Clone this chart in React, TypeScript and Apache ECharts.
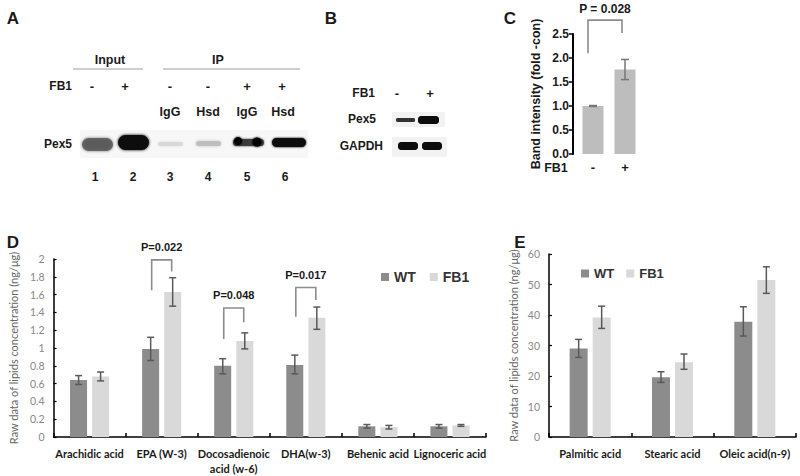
import React, { useEffect, useRef } from "react";
import * as echarts from "echarts";

// Panel C
const cCategories = ["-", "+"];
const cValues = [1.0, 1.76];
const cErrLow = [0.99, 1.55];
const cErrHigh = [1.01, 1.97];
const cBracket = [[0, 2.1, 2.79, 2.52]];
const cPLabel = "P = 0.028";

// Panel D
const dCategories = ["Arachidic acid", "EPA (W-3)", "Docosadienoic\nacid (w-6)", "DHA(w-3)", "Behenic acid", "Lignoceric acid"];
const dWT = [0.64, 0.99, 0.8, 0.81, 0.12, 0.12];
const dWTLow = [0.59, 0.86, 0.71, 0.71, 0.1, 0.1];
const dWTHigh = [0.69, 1.12, 0.88, 0.92, 0.14, 0.14];
const dFB1 = [0.68, 1.63, 1.08, 1.34, 0.11, 0.13];
const dFB1Low = [0.63, 1.47, 0.99, 1.21, 0.09, 0.12];
const dFB1High = [0.73, 1.79, 1.17, 1.46, 0.13, 0.14];
const dBrackets = [[1, 1.65, 1.99, 1.86], [2, 1.1, 1.45, 1.29], [3, 1.35, 1.68, 1.54]];
const dPLabels = ["P=0.022", "P=0.048", "P=0.017"];

// Panel E
const eCategories = ["Palmitic acid", "Stearic acid", "Oleic acid(n-9)"];
const eWT = [29, 19.6, 37.8];
const eWTLow = [26.1, 17.9, 33.1];
const eWTHigh = [32.0, 21.4, 42.7];
const eFB1 = [39.2, 24.5, 51.5];
const eFB1Low = [35.6, 22.2, 47.1];
const eFB1High = [42.9, 27.2, 55.8];

const seriesNames = ["WT", "FB1"];

const ARIAL = '"Liberation Sans", Arial, sans-serif';
const CAL = 'Lato, "Open Sans", sans-serif';

function errRender(offset: number, cap: number, color: string) {
  return (params: any, api: any) => {
    const x = api.value(0);
    const pLo = api.coord([x, api.value(1)]);
    const pHi = api.coord([x, api.value(2)]);
    const cx = pLo[0] + offset;
    const style = { stroke: color, lineWidth: 1.5, fill: "none" };
    return {
      type: "group",
      children: [
        { type: "line", shape: { x1: cx, y1: pLo[1], x2: cx, y2: pHi[1] }, style },
        { type: "line", shape: { x1: cx - cap, y1: pHi[1], x2: cx + cap, y2: pHi[1] }, style },
        { type: "line", shape: { x1: cx - cap, y1: pLo[1], x2: cx + cap, y2: pLo[1] }, style },
      ],
    };
  };
}

function bracketRender(labels: string[], leftOff: number, rightOff: number, nextCat: number, font: string, textGap: number) {
  return (params: any, api: any) => {
    const c = api.value(0);
    const pL = api.coord([c, api.value(1)]);
    const pT = api.coord([c, api.value(2)]);
    const pR = api.coord([c + nextCat, api.value(3)]);
    const xL = pL[0] + leftOff;
    const xR = pR[0] + rightOff;
    return {
      type: "group",
      children: [
        {
          type: "polyline",
          shape: { points: [[xL, pL[1]], [xL, pT[1]], [xR, pT[1]], [xR, pR[1]]] },
          style: { stroke: "#8c8c8c", lineWidth: 1.6, fill: "none" },
        },
        {
          type: "text",
          x: (xL + xR) / 2,
          y: pT[1] - textGap,
          style: { text: labels[params.dataIndex], fill: "#1a1a1a", font, align: "center", verticalAlign: "middle" },
        },
      ],
    };
  };
}

function txt(x: number, y: number, text: string, size = 12, align = "center", extra: any = {}) {
  return {
    type: "text",
    x,
    y,
    style: { text, fill: "#1a1a1a", font: `bold ${size}px ${ARIAL}`, align, verticalAlign: "middle", ...extra },
  };
}

function band(x: number, y: number, w: number, h: number, color: string, opacity = 1, blur = 3) {
  return {
    type: "rect",
    shape: { x, y, width: w, height: h, r: h / 2 },
    style: { fill: color, opacity, shadowBlur: blur, shadowColor: color },
  };
}

export default function App() {
  const ref = useRef<HTMLDivElement>(null);
  useEffect(() => {
    if (!ref.current) return;
    const chart = echarts.init(ref.current, undefined, { renderer: "svg" });

    const graphics: any[] = [
      { type: "rect", shape: { x: 80, y: 130, width: 228, height: 28 }, style: { fill: "#f7f7f7" } },
      // panel letters
      txt(13, 18, "A", 17),
      txt(331, 18, "B", 17),
      txt(510, 18, "C", 17),
      txt(13, 242, "D", 17),
      txt(520, 242, "E", 17),
      // Panel A
      txt(110, 60, "Input", 12.5),
      { type: "line", shape: { x1: 73, y1: 69, x2: 143, y2: 69 }, style: { stroke: "#bdbdbd", lineWidth: 1.5 } },
      txt(218, 60, "IP", 12.5),
      { type: "line", shape: { x1: 163, y1: 69, x2: 300, y2: 69 }, style: { stroke: "#bdbdbd", lineWidth: 1.5 } },
      txt(72, 86, "FB1", 12, "right"),
      txt(92, 86, "-", 13), txt(125, 86, "+", 13), txt(170, 86, "-", 13), txt(208, 86, "-", 13), txt(247, 86, "+", 13), txt(282, 86, "+", 13),
      txt(170, 112, "IgG", 12.5), txt(208, 112, "Hsd", 12.5), txt(247, 112, "IgG", 12.5), txt(283, 112, "Hsd", 12.5),
      txt(72, 144, "Pex5", 12, "right"),
      txt(95, 177, "1", 12), txt(133, 177, "2", 12), txt(170, 177, "3", 12), txt(208, 177, "4", 12), txt(247, 177, "5", 12), txt(285, 177, "6", 12),
      band(82, 138, 31, 13, "#555", 0.8, 3),
      band(118, 135, 31, 15, "#0a0a0a", 1, 3),
      band(158, 142, 25, 4, "#d6d6d6", 0.8, 3),
      band(196, 141, 25, 5, "#bdbdbd", 0.9, 3),
      band(233, 139, 31, 7, "#3a3a3a", 0.9, 2),
      { type: "circle", shape: { cx: 238, cy: 141, r: 4 }, style: { fill: "#050505", shadowBlur: 2, shadowColor: "#000" } },
      { type: "circle", shape: { cx: 257, cy: 142, r: 4.5 }, style: { fill: "#050505", shadowBlur: 2, shadowColor: "#000" } },
      band(272, 138, 34, 9, "#080808", 1, 2),
      // Panel B
      txt(375, 93, "FB1", 12, "right"),
      txt(397, 93, "-", 13), txt(430, 93, "+", 13),
      txt(376, 119, "Pex5", 12, "right"),
      txt(383, 146, "GAPDH", 12, "right"),
      { type: "rect", shape: { x: 392, y: 112, width: 53, height: 15 }, style: { fill: "#f2f2f2" } },
      band(396, 118, 19, 4, "#333", 1, 1.5),
      band(418, 116, 21, 8, "#0a0a0a", 1, 1.5),
      { type: "rect", shape: { x: 392, y: 137, width: 55, height: 20 }, style: { fill: "#f2f2f2" } },
      band(398, 142, 20, 8, "#0a0a0a", 1, 1.5),
      band(422, 142, 20, 8, "#0a0a0a", 1, 1.5),
      // Panel C label
      txt(556, 168, "FB1", 12.5),
    ];

    const dAxisLabel = { fontFamily: CAL, fontSize: 11, fontWeight: "bold", color: "#1a1a1a", lineHeight: 15, margin: 9, interval: 0 };

    chart.setOption({
      animation: false,
      backgroundColor: "#ffffff",
      graphic: { elements: graphics },
      legend: [
        {
          left: 376,
          top: 265,
          icon: "rect",
          itemWidth: 8,
          itemHeight: 8,
          itemGap: 14,
          data: seriesNames,
          textStyle: { fontFamily: ARIAL, fontWeight: "bold", fontSize: 14, color: "#333" },
        },
        {
          left: 576,
          top: 262,
          icon: "rect",
          itemWidth: 8,
          itemHeight: 8,
          itemGap: 12,
          data: seriesNames,
          textStyle: { fontFamily: ARIAL, fontWeight: "bold", fontSize: 13, color: "#333" },
        },
      ],
      grid: [
        { left: 577, top: 34, width: 64, height: 120 },
        { left: 43, top: 259, width: 443, height: 178 },
        { left: 549, top: 254, width: 247, height: 183 },
      ],
      xAxis: [
        {
          gridIndex: 0,
          type: "category",
          data: cCategories,
          axisLine: { show: false },
          axisTick: { show: false },
          axisLabel: { fontFamily: ARIAL, fontWeight: "bold", fontSize: 13, color: "#1a1a1a", margin: 7 },
        },
        {
          gridIndex: 1,
          type: "category",
          data: dCategories,
          axisLine: { lineStyle: { color: "#000", width: 1.5 } },
          axisTick: { show: true, inside: true, length: 4, lineStyle: { color: "#000", width: 1.5 } },
          axisLabel: dAxisLabel,
        },
        {
          gridIndex: 2,
          type: "category",
          data: eCategories,
          axisLine: { lineStyle: { color: "#000", width: 1.5 } },
          axisTick: { show: true, inside: true, length: 4, lineStyle: { color: "#000", width: 1.5 } },
          axisLabel: dAxisLabel,
        },
      ],
      yAxis: [
        {
          gridIndex: 0,
          type: "value",
          min: 0,
          max: 2.5,
          interval: 0.5,
          offset: 4,
          name: "Band intensity (fold -con)",
          nameLocation: "middle",
          nameGap: 31,
          nameRotate: 90,
          nameTextStyle: { fontFamily: ARIAL, fontWeight: "bold", fontSize: 12.5, color: "#1a1a1a" },
          axisLine: { show: true, lineStyle: { color: "#000", width: 2 } },
          axisTick: { show: true, length: 4, lineStyle: { color: "#000", width: 1.5 } },
          axisLabel: { fontFamily: ARIAL, fontWeight: "bold", fontSize: 12, color: "#1a1a1a", margin: 4, formatter: (v: number) => v.toFixed(1) },
          splitLine: { show: false },
        },
        {
          gridIndex: 1,
          type: "value",
          min: 0,
          max: 2,
          interval: 0.2,
          name: "Raw data of lipids concentration (ng/μg)",
          nameLocation: "middle",
          nameGap: 32,
          nameRotate: 90,
          nameTextStyle: { fontFamily: CAL, fontSize: 11, color: "#666" },
          axisLine: { show: true, lineStyle: { color: "#000", width: 1.5 } },
          axisTick: { show: true, inside: true, length: 3, lineStyle: { color: "#000", width: 1.2 } },
          axisLabel: { fontFamily: CAL, fontSize: 10.5, color: "#888", margin: 9 },
          splitLine: { show: false },
        },
        {
          gridIndex: 2,
          type: "value",
          min: 0,
          max: 60,
          interval: 10,
          name: "Raw data of lipids concentration (ng/μg)",
          nameLocation: "middle",
          nameGap: 30,
          nameRotate: 90,
          nameTextStyle: { fontFamily: CAL, fontSize: 11, color: "#666" },
          axisLine: { show: true, lineStyle: { color: "#000", width: 1.5 } },
          axisTick: { show: true, inside: true, length: 3, lineStyle: { color: "#000", width: 1.2 } },
          axisLabel: { fontFamily: CAL, fontSize: 10.5, color: "#888", margin: 9 },
          splitLine: { show: false },
        },
      ],
      series: [
        // C
        { type: "bar", name: "Band", xAxisIndex: 0, yAxisIndex: 0, data: cValues, barWidth: 21, itemStyle: { color: "#bdbdbd" } },
        {
          type: "custom",
          xAxisIndex: 0,
          yAxisIndex: 0,
          clip: false,
          z: 5,
          data: cValues.map((_, i) => [i, cErrLow[i], cErrHigh[i]]),
          renderItem: errRender(0, 4, "#777"),
        },
        {
          type: "custom",
          xAxisIndex: 0,
          yAxisIndex: 0,
          clip: false,
          z: 5,
          data: cBracket,
          renderItem: bracketRender([cPLabel], -5, -3, 1, `bold 12px ${ARIAL}`, 11),
        },
        // D
        { type: "bar", name: "WT", xAxisIndex: 1, yAxisIndex: 1, data: dWT, barWidth: 17, barGap: "30%", itemStyle: { color: "#8c8c8c" } },
        { type: "bar", name: "FB1", xAxisIndex: 1, yAxisIndex: 1, data: dFB1, barWidth: 17, barGap: "30%", itemStyle: { color: "#d9d9d9" } },
        {
          type: "custom",
          xAxisIndex: 1,
          yAxisIndex: 1,
          clip: false,
          z: 5,
          data: dWT.map((_, i) => [i, dWTLow[i], dWTHigh[i]]),
          renderItem: errRender(-11, 3.5, "#595959"),
        },
        {
          type: "custom",
          xAxisIndex: 1,
          yAxisIndex: 1,
          clip: false,
          z: 5,
          data: dFB1.map((_, i) => [i, dFB1Low[i], dFB1High[i]]),
          renderItem: errRender(11, 3.5, "#595959"),
        },
        {
          type: "custom",
          xAxisIndex: 1,
          yAxisIndex: 1,
          clip: false,
          z: 5,
          data: dBrackets,
          renderItem: bracketRender(dPLabels, -10, 10, 0, `bold 11px ${ARIAL}`, 12.5),
        },
        // E
        { type: "bar", name: "WT", xAxisIndex: 2, yAxisIndex: 2, data: eWT, barWidth: 18, barGap: "28%", itemStyle: { color: "#8c8c8c" } },
        { type: "bar", name: "FB1", xAxisIndex: 2, yAxisIndex: 2, data: eFB1, barWidth: 18, barGap: "28%", itemStyle: { color: "#d9d9d9" } },
        {
          type: "custom",
          xAxisIndex: 2,
          yAxisIndex: 2,
          clip: false,
          z: 5,
          data: eWT.map((_, i) => [i, eWTLow[i], eWTHigh[i]]),
          renderItem: errRender(-11.5, 3.5, "#595959"),
        },
        {
          type: "custom",
          xAxisIndex: 2,
          yAxisIndex: 2,
          clip: false,
          z: 5,
          data: eFB1.map((_, i) => [i, eFB1Low[i], eFB1High[i]]),
          renderItem: errRender(11.5, 3.5, "#595959"),
        },
      ],
    });
    return () => chart.dispose();
  }, []);
  return <div ref={ref} style={{ position: "fixed", left: 0, top: 0, width: 800, height: 476, background: "#fff" }} />;
}
